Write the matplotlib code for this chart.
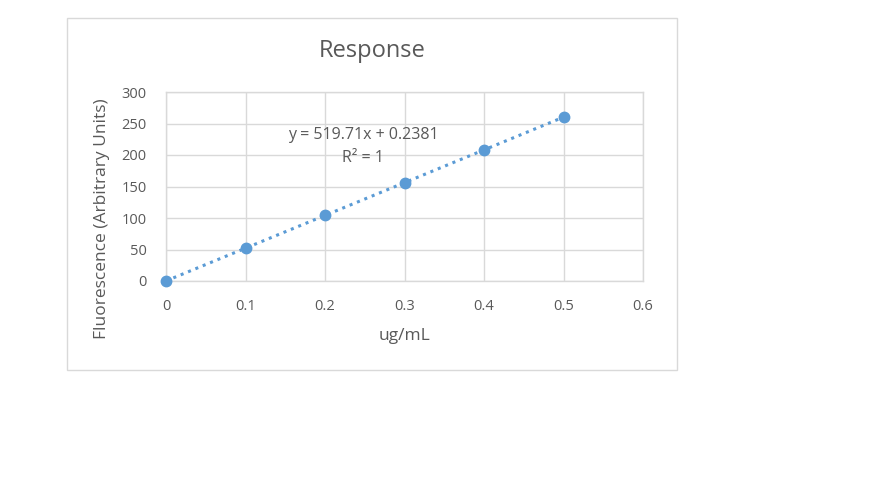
import numpy as np
import matplotlib.pyplot as plt
from matplotlib.patches import Rectangle

# dados
conc = [0.0, 0.1, 0.2, 0.3, 0.4, 0.5]
fluor = [0.0, 52.3, 104.1, 156.2, 208.0, 260.1]
x_ticks = [0, 0.1, 0.2, 0.3, 0.4, 0.5, 0.6]
x_labels = ['0', '0.1', '0.2', '0.3', '0.4', '0.5', '0.6']
y_ticks = [0, 50, 100, 150, 200, 250, 300]
eq_text = 'y = 519.71x + 0.2381'
r2_text = 'R² = 1'

plt.rcParams['font.family'] = ['Open Sans', 'DejaVu Sans']
cinza = '#595959'
azul = '#5b9bd5'
grade = '#d9d9d9'

fig = plt.figure(figsize=(8.85, 4.92), dpi=100)

# moldura do gráfico (estilo Excel)
fig.patches.append(Rectangle((67/885, 1 - 370/492), 610/885, 352/492,
                             transform=fig.transFigure, fill=False,
                             edgecolor=grade, linewidth=1.0))

ax = fig.add_axes([166/885, 1 - 281/492, 477/885, 189/492])

# linha de tendência
coef = np.polyfit(conc, fluor, 1)
xs = np.array([min(conc), max(conc)])
ax.plot(xs, np.polyval(coef, xs), linestyle=(0, (1, 1.6)), color=azul, linewidth=2.2, zorder=2)
ax.plot(conc, fluor, 'o', color=azul, markersize=7.5, zorder=3, clip_on=False)

ax.set_xlim(0, 0.6)
ax.set_ylim(0, 300)
ax.set_xticks(x_ticks)
ax.set_xticklabels(x_labels)
ax.set_yticks(y_ticks)
ax.grid(True, color=grade, linewidth=1.0)
ax.set_axisbelow(True)
for s in ax.spines.values():
    s.set_color(grade)
    s.set_linewidth(1.0)
ax.tick_params(length=0, colors=cinza, labelsize=10.5)
ax.tick_params(axis='x', pad=13)
ax.tick_params(axis='y', pad=14)

ax.set_xlabel('ug/mL', color=cinza, fontsize=12.5, labelpad=10)
ax.set_ylabel('Fluorescence (Arbitrary Units)', color=cinza, fontsize=12.5)
ax.yaxis.set_label_coords(-0.118, 0.328)

ax.text(0.248, 231, eq_text, ha='center', va='center', color=cinza, fontsize=11.5)
ax.text(0.248, 196, r2_text, ha='center', va='center', color=cinza, fontsize=11.5)

fig.text(372/885, 1 - 51/492, 'Response', ha='center', va='center', color=cinza, fontsize=17)

fig.savefig('out.png', dpi=100)
